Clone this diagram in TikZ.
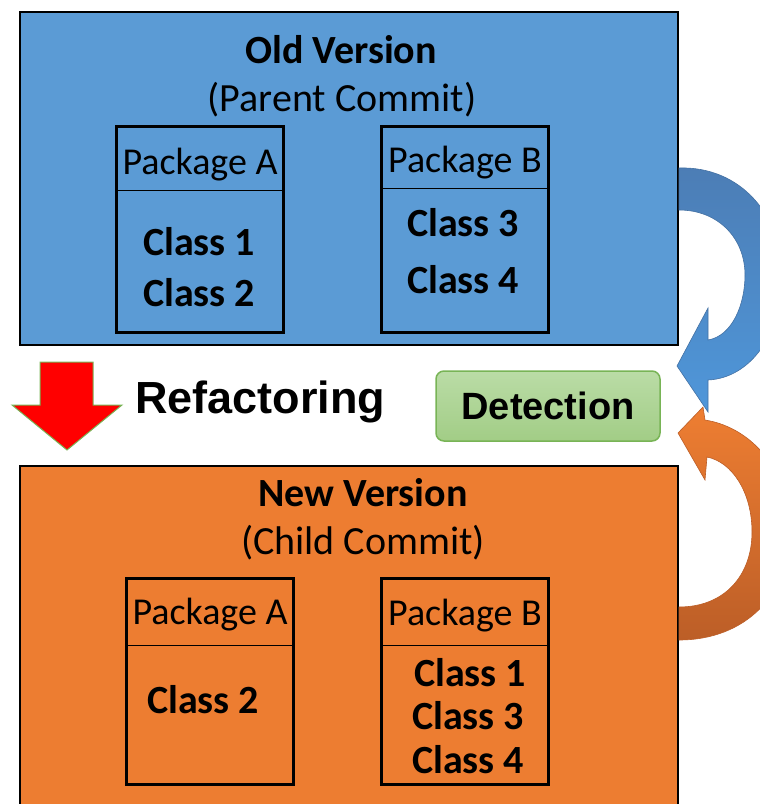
\documentclass[tikz,border=0pt]{standalone}
\usepackage{fontspec}
\setmainfont{Carlito}
\newfontfamily\arialfont{Liberation Sans}
\usepackage{tikz}
\usetikzlibrary{positioning}
\definecolor{old-bg}{HTML}{5B9BD5}
\definecolor{new-bg}{HTML}{ED7D31}
\definecolor{det-top}{HTML}{BADCA6}
\definecolor{det-bottom}{HTML}{A2CD86}
\definecolor{det-line}{HTML}{78B456}
\definecolor{blue-dark}{HTML}{4C7DB5}
\definecolor{blue-light}{HTML}{4F97DA}
\definecolor{orange-dark}{HTML}{BC5E27}
\definecolor{orange-light}{HTML}{EE7E32}

\begin{document}
\begin{tikzpicture}[x=1pt,y=-1pt,
  box/.style={draw,line width=2.5pt,inner sep=0pt},
  pkg/.style={draw,line width=2.5pt,inner sep=0pt,minimum width=167pt,minimum height=206pt,anchor=north},
  head/.style={inner sep=0pt,minimum width=167pt,anchor=north,text depth=7pt,font=\fontsize{38}{38}\selectfont},
  cls/.style={font=\fontsize{40}{40}\selectfont\bfseries},
  title/.style={font=\fontsize{40}{40}\selectfont\bfseries},
  sub/.style={font=\fontsize{40}{40}\selectfont}]
\useasboundingbox (0,0) rectangle (760,804);
\path
(349,178.5) node[box,fill=old-bg,minimum width=658pt,minimum height=333pt] (old) {}
(341,50)    node[title] (oldt) {Old Version}
(342,100)   node[sub] (olds) {(Parent Commit)}
(200,125)   node[pkg] (oA) {}
(465,125)   node[pkg] (oB) {}
(349,648)   node[box,fill=new-bg,minimum width=658pt,minimum height=364pt] (new) {}
(363,493)   node[title] (newt) {New Version}
(363,543)   node[sub] (news) {(Child Commit)}
(210,577)   node[pkg] (nA) {}
(465,577)   node[pkg] (nB) {};
\path
(oA.north) node[head,minimum height=65pt,text height=40pt] (oAh) {Package A}
(oB.north) node[head,minimum height=63pt,text height=39pt] (oBh) {Package B}
(nA.north) node[head,minimum height=68pt,text height=34pt] (nAh) {Package A}
(nB.north) node[head,minimum height=68pt,text height=35pt] (nBh) {Package B};
\foreach \h in {oAh,oBh,nAh,nBh}
  \draw[line width=1.5pt] (\h.south west)--(\h.south east);
\path
(199,242) node[cls] (c1) {Class 1}
(199,293) node[cls] (c2) {Class 2}
(463,223) node[cls] (c3) {Class 3}
(463,280) node[cls] (c4) {Class 4}
(203,700) node[cls] (d2) {Class 2}
(470,673) node[cls] (d1) {Class 1}
(468,716) node[cls] (d3) {Class 3}
(468,760) node[cls] (d4) {Class 4};
\draw[fill=red,draw=det-line,line width=1pt]
  (40,362)--(93,362)--(93,405)--(122,405)--(67,450)--(12,405)--(40,405)--cycle;
\node[anchor=base west,font=\arialfont\bfseries\fontsize{45}{45}\selectfont,inner sep=0pt] (ref) at (135,413) {Refactoring};
\node[draw=det-line,line width=1.5pt,rounded corners=8pt,top color=det-top,bottom color=det-bottom,
  minimum width=224pt,minimum height=70pt,inner sep=0pt,font=\arialfont\bfseries\fontsize{38}{38}\selectfont] (det) at (548,406) {Detection};
\draw[draw=blue-dark!90!black,line width=0.6pt,top color=blue-dark,bottom color=blue-light]
  (679,168) .. controls (740,166) and (782,215) .. (782,275)
  .. controls (782,335) and (750,378) .. (708,380)
  -- (708,412) -- (677,366) -- (708,308) -- (708,340)
  .. controls (732,336) and (745,305) .. (745,275)
  .. controls (745,238) and (718,210) .. (679,210) -- cycle;
\draw[draw=orange-dark,line width=0.6pt,top color=orange-light,bottom color=orange-dark]
  (679,607) .. controls (725,607) and (752,575) .. (752,532)
  .. controls (752,492) and (732,462) .. (707,457)
  -- (705,480) -- (678,433) -- (703,407) -- (705,420)
  .. controls (755,428) and (790,475) .. (790,530)
  .. controls (790,595) and (745,640) .. (679,640) -- cycle;
\end{tikzpicture}
\end{document}
